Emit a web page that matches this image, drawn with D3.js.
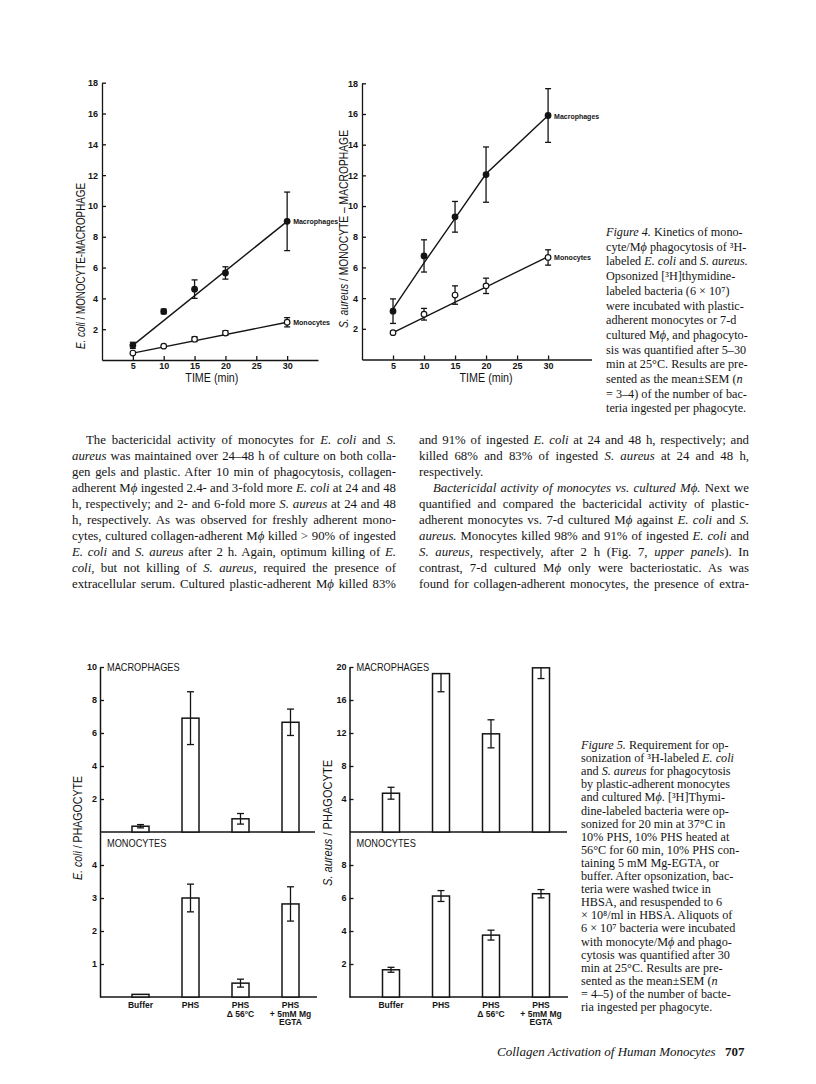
<!DOCTYPE html>
<html lang="en">
<head>
<meta charset="UTF-8">
<title>Phagocytosis kinetics and opsonization</title>
<script src="https://d3js.org/d3.v7.min.js"></script>
<style>
  body { margin: 0; background: #fff; }
  svg { display: block; }
  text { white-space: pre; }
</style>
</head>
<body>
<svg id="page" width="816" height="1084"></svg>
<script>
// ---- Figure 4: bacteria ingested per phagocyte vs time ----
const timePoints = [5, 10, 15, 20, 30];
const timeTicks = [5, 10, 15, 20, 25, 30];
const kineticTicks = [2, 4, 6, 8, 10, 12, 14, 16, 18];

const ecoliMacrophages = [0.95, 3.15, 4.6, 5.65, 9.0];
const ecoliMacrophagesErr = [0.2, 0.15, 0.6, 0.4, 1.9];
const ecoliMonocytes = [0.45, 0.9, 1.35, 1.75, 2.45];
const ecoliMonocytesErr = [0.05, 0.05, 0.15, 0.15, 0.3];
const ecoliMacrophagesFit = [[5, 0.95], [30, 9.0]];
const ecoliMonocytesFit = [[5, 0.45], [30, 2.45]];

const aureusMacrophages = [3.15, 6.75, 9.3, 12.05, 15.9];
const aureusMacrophagesErr = [0.8, 1.05, 1.0, 1.8, 1.75];
const aureusMonocytes = [1.75, 2.95, 4.2, 4.8, 6.65];
const aureusMonocytesErr = [0.05, 0.38, 0.6, 0.5, 0.5];
const aureusMacrophagesFit = [[5, 3.3], [10, 6.3], [15, 9.2], [20, 12.1], [30, 15.9]];
const aureusMonocytesFit = [[5, 1.75], [30, 6.7]];

// ---- Figure 5: opsonization requirement ----
const conditions = ["Buffer", "PHS", "PHS 56", "PHS Mg"];
const conditionLabels = [["Buffer"], ["PHS"], ["PHS", "Δ 56°C"], ["PHS", "+ 5mM Mg", "EGTA"]];

const ecoliMacBars = [0.35, 6.9, 0.8, 6.65];
const ecoliMacBarsErr = [0.1, 1.6, 0.32, 0.8];
const ecoliMonoBars = [0.08, 3.0, 0.42, 2.82];
const ecoliMonoBarsErr = [0, 0.42, 0.12, 0.52];

const aureusMacBars = [4.7, 19.2, 11.9, 19.9];
const aureusMacBarsErr = [0.72, 2.2, 1.7, 1.3];
const aureusMonoBars = [1.65, 6.12, 3.75, 6.26];
const aureusMonoBarsErr = [0.15, 0.33, 0.3, 0.25];

// ---- page text ----
const fig4Caption = [
  "*Figure 4.* Kinetics of mono-",
  "cyte/M*ϕ* phagocytosis of ³H-",
  "labeled *E. coli* and *S. aureus.*",
  "Opsonized [³H]thymidine-",
  "labeled bacteria (6 × 10⁷)",
  "were incubated with plastic-",
  "adherent monocytes or 7-d",
  "cultured M*ϕ*, and phagocyto-",
  "sis was quantified after 5–30",
  "min at 25°C. Results are pre-",
  "sented as the mean±SEM (*n*",
  "= 3–4) of the number of bac-",
  "teria ingested per phagocyte."
];

const fig5Caption = [
  "*Figure 5.* Requirement for op-",
  "sonization of ³H-labeled *E. coli*",
  "and *S. aureus* for phagocytosis",
  "by plastic-adherent monocytes",
  "and cultured M*ϕ*. [³H]Thymi-",
  "dine-labeled bacteria were op-",
  "sonized for 20 min at 37°C in",
  "10% PHS, 10% PHS heated at",
  "56°C for 60 min, 10% PHS con-",
  "taining 5 mM Mg-EGTA, or",
  "buffer. After opsonization, bac-",
  "teria were washed twice in",
  "HBSA, and resuspended to 6",
  "× 10⁸/ml in HBSA. Aliquots of",
  "6 × 10⁷ bacteria were incubated",
  "with monocyte/M*ϕ* and phago-",
  "cytosis was quantified after 30",
  "min at 25°C. Results are pre-",
  "sented as the mean±SEM (*n*",
  "= 4–5) of the number of bacte-",
  "ria ingested per phagocyte."
];

// "\t" = paragraph indent, "|" at end = not justified
const bodyLeft = [
  "\tThe bactericidal activity of monocytes for *E. coli* and *S.*",
  "*aureus* was maintained over 24–48 h of culture on both colla-",
  "gen gels and plastic. After 10 min of phagocytosis, collagen-",
  "adherent M*ϕ* ingested 2.4- and 3-fold more *E. coli* at 24 and 48",
  "h, respectively; and 2- and 6-fold more *S. aureus* at 24 and 48",
  "h, respectively. As was observed for freshly adherent mono-",
  "cytes, cultured collagen-adherent M*ϕ* killed > 90% of ingested",
  "*E. coli* and *S. aureus* after 2 h. Again, optimum killing of *E.*",
  "*coli,* but not killing of *S. aureus,* required the presence of",
  "extracellular serum. Cultured plastic-adherent M*ϕ* killed 83%"
];
const bodyRight = [
  "and 91% of ingested *E. coli* at 24 and 48 h, respectively; and",
  "killed 68% and 83% of ingested *S. aureus* at 24 and 48 h,",
  "respectively.|",
  "\t*Bactericidal activity of monocytes vs. cultured Mϕ.* Next we",
  "quantified and compared the bactericidal activity of plastic-",
  "adherent monocytes vs. 7-d cultured M*ϕ* against *E. coli* and *S.*",
  "*aureus.* Monocytes killed 98% and 91% of ingested *E. coli* and",
  "*S. aureus,* respectively, after 2 h (Fig. 7, *upper panels*). In",
  "contrast, 7-d cultured M*ϕ* only were bacteriostatic. As was",
  "found for collagen-adherent monocytes, the presence of extra-"
];

const ink = "#141414";
const SANS = "'Liberation Sans', Arial, sans-serif";
const SERIF = "'Liberation Serif', 'Times New Roman', serif";
const svg = d3.select("#page");

// text with *italic* segments
function richLine(parent, x, y, str, size, width) {
  let justify = width != null;
  if (str.endsWith("|")) { str = str.slice(0, -1); justify = false; }
  const t = parent.append("text")
    .attr("x", x).attr("y", y)
    .attr("font-family", SERIF).attr("font-size", size).attr("fill", ink);
  str.split("*").forEach((seg, i) => {
    if (seg) t.append("tspan").attr("font-style", i % 2 ? "italic" : null).text(seg);
  });
  if (justify) {
    const gaps = (str.match(/ /g) || []).length;
    const natural = t.node().getComputedTextLength();
    if (gaps) t.attr("word-spacing", (width - natural) / gaps);
  }
  return t;
}

function rotatedLabel(parent, cx, cy, str, size, len) {
  const t = parent.append("text")
    .attr("transform", `translate(${cx},${cy}) rotate(-90)`)
    .attr("text-anchor", "middle")
    .attr("font-family", SANS).attr("font-size", size).attr("fill", ink)
    .attr("textLength", len).attr("lengthAdjust", "spacingAndGlyphs");
  str.split("*").forEach((seg, i) => {
    if (seg) t.append("tspan").attr("font-style", i % 2 ? "italic" : null).text(seg);
  });
}

function styleAxis(sel, size) {
  sel.attr("font-family", SANS).attr("font-size", size).attr("font-weight", "bold");
  sel.selectAll("line,path").attr("stroke", ink).attr("stroke-width", 1.3);
  sel.selectAll("text").attr("fill", ink);
}

// ---------- Figure 4 ----------
function kinetics(cfg) {
  const g = svg.append("g");
  const x = d3.scaleLinear().domain([0, cfg.xMax]).range([cfg.left, cfg.right]);
  const y = d3.scaleLinear().domain([0, 18]).range([cfg.bottom, cfg.top]);

  g.append("g").attr("transform", `translate(0,${cfg.bottom})`)
    .call(d3.axisBottom(x).tickValues(timeTicks).tickSizeInner(-4).tickSizeOuter(0).tickPadding(3))
    .call(s => styleAxis(s, 9));
  g.append("g").attr("transform", `translate(${cfg.left},0)`)
    .call(d3.axisLeft(y).tickValues(kineticTicks).tickSizeInner(-4).tickSizeOuter(0).tickPadding(4))
    .call(s => styleAxis(s, 9));

  const line = d3.line().x(d => x(d[0])).y(d => y(d[1]));

  cfg.series.forEach(s => {
    g.append("path").datum(s.fit).attr("d", line)
      .attr("fill", "none").attr("stroke", ink).attr("stroke-width", 1.4);
    const pts = timePoints.map((t, i) => ({ t, v: s.values[i], e: s.errors[i] }));
    const eb = g.append("g").attr("stroke", ink).attr("stroke-width", 1.3);
    pts.filter(d => d.e > 0.08).forEach(d => {
      eb.append("line").attr("x1", x(d.t)).attr("x2", x(d.t)).attr("y1", y(d.v - d.e)).attr("y2", y(d.v + d.e));
      [d.v - d.e, d.v + d.e].forEach(v => eb.append("line")
        .attr("x1", x(d.t) - 3).attr("x2", x(d.t) + 3).attr("y1", y(v)).attr("y2", y(v)));
    });
    g.selectAll(null).data(pts).enter().append("circle")
      .attr("cx", d => x(d.t)).attr("cy", d => y(d.v)).attr("r", 2.8)
      .attr("fill", s.filled ? ink : "#fff").attr("stroke", ink).attr("stroke-width", 1.2);
    const last = s.fit[s.fit.length - 1];
    g.append("text").attr("x", x(last[0]) + 6).attr("y", y(last[1]) + 3)
      .attr("font-family", SANS).attr("font-size", 8).attr("font-weight", "bold")
      .attr("fill", ink).attr("textLength", s.label.length * 4.1)
      .attr("lengthAdjust", "spacingAndGlyphs").text(s.label);
  });

  g.append("text").attr("x", x(cfg.titleAt)).attr("y", cfg.bottom + 22)
    .attr("text-anchor", "middle").attr("font-family", SANS).attr("font-size", 12)
    .attr("fill", ink).attr("textLength", 53).attr("lengthAdjust", "spacingAndGlyphs")
    .text("TIME (min)");
  rotatedLabel(g, cfg.yLabelX, cfg.yLabelY, cfg.yLabel, 13, cfg.yLabelLen);
}

kinetics({
  left: 102, right: 318, xMax: 35, top: 82.7, bottom: 360, titleAt: 17.8,
  yLabel: "*E. coli* / MONOCYTE-MACROPHAGE", yLabelX: 85, yLabelY: 266, yLabelLen: 166,
  series: [
    { values: ecoliMacrophages, errors: ecoliMacrophagesErr, fit: ecoliMacrophagesFit, filled: true, label: "Macrophages" },
    { values: ecoliMonocytes, errors: ecoliMonocytesErr, fit: ecoliMonocytesFit, filled: false, label: "Monocytes" }
  ]
});
kinetics({
  left: 362, right: 591.5, xMax: 37, top: 83.3, bottom: 359.5, titleAt: 20,
  yLabel: "*S. aureus* / MONOCYTE – MACROPHAGE", yLabelX: 348, yLabelY: 229, yLabelLen: 198,
  series: [
    { values: aureusMacrophages, errors: aureusMacrophagesErr, fit: aureusMacrophagesFit, filled: true, label: "Macrophages" },
    { values: aureusMonocytes, errors: aureusMonocytesErr, fit: aureusMonocytesFit, filled: false, label: "Monocytes" }
  ]
});

// ---------- Figure 5 ----------
function barColumn(cfg) {
  const g = svg.append("g");
  const x = d3.scalePoint().domain(conditions).range([cfg.c0, cfg.c1]);
  const bw = 17;
  const split = 832, bottom = 997, top = 667;

  const panels = [
    { y: d3.scaleLinear().domain([0, cfg.upMax]).range([split, top]), ticks: cfg.upTicks,
      values: cfg.up, errs: cfg.upErr, end: cfg.x1Up, title: "MACROPHAGES", titleY: top + 4 },
    { y: d3.scaleLinear().domain([0, cfg.lowMax]).range([bottom, split]), ticks: cfg.lowTicks,
      values: cfg.low, errs: cfg.lowErr, end: cfg.x1Low, title: "MONOCYTES", titleY: split + 15 }
  ];

  panels.forEach(p => {
    const base = p.y(0);
    g.append("g").attr("transform", `translate(${cfg.x0},0)`)
      .call(d3.axisLeft(p.y).tickValues(p.ticks).tickFormat(d3.format("d"))
        .tickSizeInner(-4).tickSizeOuter(0).tickPadding(3))
      .call(s => styleAxis(s, 9))
      .select(".domain").attr("stroke-width", 1.5);
    g.append("line").attr("x1", cfg.x0).attr("x2", p.end).attr("y1", base).attr("y2", base)
      .attr("stroke", ink).attr("stroke-width", 1.5);

    const rows = conditions.map((c, i) => ({ c, v: p.values[i], e: p.errs[i] }));
    g.selectAll(null).data(rows).enter().append("rect")
      .attr("x", d => x(d.c) - bw / 2).attr("y", d => p.y(d.v))
      .attr("width", bw).attr("height", d => base - p.y(d.v))
      .attr("fill", "#fff").attr("stroke", ink).attr("stroke-width", 1.5);

    const eb = g.append("g").attr("stroke", ink).attr("stroke-width", 1.3);
    rows.filter(d => d.e > 0).forEach(d => {
      const cx = x(d.c);
      const clipped = d.v + d.e > p.y.domain()[1];
      const hi = clipped ? d.v : d.v + d.e;
      eb.append("line").attr("x1", cx).attr("x2", cx).attr("y1", p.y(d.v - d.e)).attr("y2", p.y(hi));
      const caps = clipped ? [d.v - d.e] : [d.v - d.e, d.v + d.e];
      caps.forEach(v => eb.append("line")
        .attr("x1", cx - 3.5).attr("x2", cx + 3.5).attr("y1", p.y(v)).attr("y2", p.y(v)));
    });

    g.append("text").attr("x", cfg.x0 + 7).attr("y", p.titleY)
      .attr("font-family", SANS).attr("font-size", 11.5).attr("fill", ink)
      .attr("textLength", p.title.length * 6.6).attr("lengthAdjust", "spacingAndGlyphs")
      .text(p.title);
  });

  conditions.forEach((c, i) => {
    conditionLabels[i].forEach((s, j) => {
      g.append("text").attr("x", x(c)).attr("y", bottom + 11 + j * 8.5)
        .attr("text-anchor", "middle").attr("font-family", SANS).attr("font-size", 8.5)
        .attr("font-weight", "bold").attr("fill", ink).text(s);
    });
  });

  rotatedLabel(g, cfg.labelX, cfg.labelY, cfg.label, 12.5, cfg.labelLen);
}

barColumn({
  x0: 100, x1Up: 315, x1Low: 317, c0: 140.5, c1: 290.5,
  upMax: 10, upTicks: [2, 4, 6, 8, 10], up: ecoliMacBars, upErr: ecoliMacBarsErr,
  lowMax: 5, lowTicks: [1, 2, 3, 4], low: ecoliMonoBars, lowErr: ecoliMonoBarsErr,
  label: "*E. coli* / PHAGOCYTE", labelX: 82, labelY: 828, labelLen: 104
});
barColumn({
  x0: 349.5, x1Up: 567, x1Low: 568, c0: 391, c1: 541,
  upMax: 20, upTicks: [4, 8, 12, 16, 20], up: aureusMacBars, upErr: aureusMacBarsErr,
  lowMax: 10, lowTicks: [2, 4, 6, 8], low: aureusMonoBars, lowErr: aureusMonoBarsErr,
  label: "*S. aureus* / PHAGOCYTE", labelX: 332, labelY: 823, labelLen: 126
});

// ---------- captions, body text, footer ----------
const capG = svg.append("g");
fig4Caption.forEach((s, i) => richLine(capG, 606, 236 + i * 14.7, s, 12.2));
fig5Caption.forEach((s, i) => richLine(capG, 581, 749 + i * 13.1, s, 12.2));

const bodyG = svg.append("g");
function column(lines, x0, x1) {
  lines.forEach((s, i) => {
    const indent = s.startsWith("\t");
    const str = indent ? s.slice(1) : s;
    const xs = indent ? x0 + 14 : x0;
    richLine(bodyG, xs, 444 + i * 16, str, 12.8, x1 - xs);
  });
}
column(bodyLeft, 72, 396);
column(bodyRight, 419, 749);

const foot = svg.append("g").attr("font-family", SERIF).attr("fill", ink);
foot.append("text").attr("x", 497).attr("y", 1056).attr("font-size", 13)
  .attr("font-style", "italic").text("Collagen Activation of Human Monocytes");
foot.append("text").attr("x", 725).attr("y", 1056).attr("font-size", 13)
  .attr("font-weight", "bold").text("707");
</script>
</body>
</html>
